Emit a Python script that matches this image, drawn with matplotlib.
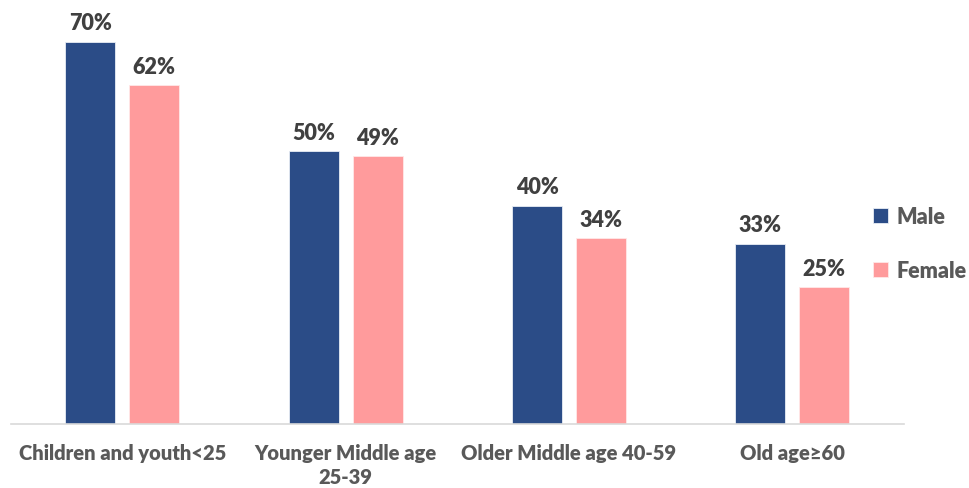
import matplotlib
matplotlib.use("Agg")
import matplotlib.pyplot as plt
import numpy as np

categories = ["Children and youth<25", "Younger Middle age\n25-39", "Older Middle age 40-59", "Old age\u226560"]
male = [70, 50, 40, 33]
female = [62, 49, 34, 25]
series_names = ["Male", "Female"]

MALE_C = "#2B4C87"
FEMALE_C = "#FF9B9C"
VAL_C = "#404040"
CAT_C = "#595959"

plt.rcParams['font.family'] = ['Lato', 'DejaVu Sans']

fig = plt.figure(figsize=(9.69, 4.89), dpi=100)
ax = fig.add_axes([0.011, 0.1309, 0.922, 0.8487])

x = np.arange(len(categories))
w = 0.224
off = 0.143
b1 = ax.bar(x - off, male, w, color=MALE_C, edgecolor="#E8EDF5", linewidth=0.6, label=series_names[0])
b2 = ax.bar(x + off, female, w, color=FEMALE_C, edgecolor="#FFE8E8", linewidth=0.6, label=series_names[1])

for bars, vals in ((b1, male), (b2, female)):
    for r, v in zip(bars, vals):
        ax.annotate(f"{v}%", (r.get_x() + r.get_width() / 2, r.get_height()),
                    xytext=(0, 6), textcoords="offset points", ha="center", va="bottom",
                    fontsize=15.5, fontweight="heavy", color=VAL_C)

ax.set_xlim(-0.5, len(categories) - 0.5)
ax.set_ylim(0, 76.0)
ax.set_xticks(x)
ax.set_xticklabels(categories, fontsize=14.5, fontweight="heavy", color=CAT_C, linespacing=1.3)
ax.tick_params(axis="x", length=0, pad=14)
ax.set_yticks([])
for s in ("top", "right", "left"):
    ax.spines[s].set_visible(False)
ax.spines["bottom"].set_color("#D9D9D9")
ax.spines["bottom"].set_linewidth(1.2)

leg = fig.legend(handles=[b1, b2], labels=series_names, loc="center left",
                 bbox_to_anchor=(0.881, 0.50), frameon=False,
                 prop={"size": 15.5, "weight": "heavy"}, labelcolor=CAT_C,
                 handlelength=0.7, handleheight=0.7, handletextpad=0.4, labelspacing=1.5)

fig.savefig("out.png", dpi=100)
